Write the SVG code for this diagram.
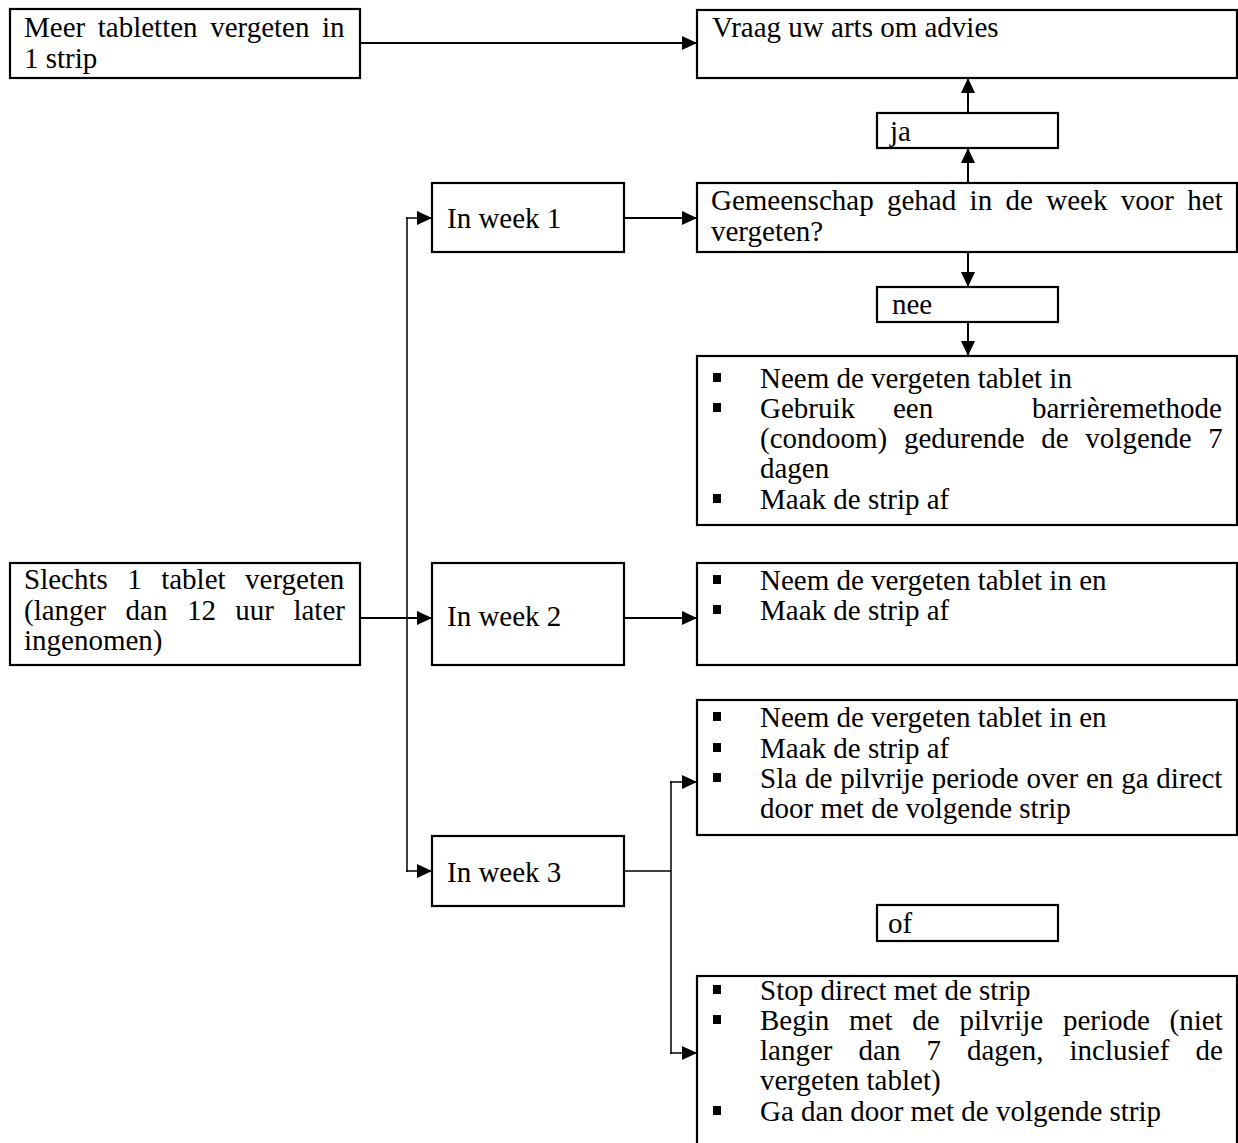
<svg xmlns="http://www.w3.org/2000/svg" width="1238" height="1143" viewBox="0 0 1238 1143">
<style>
.box{fill:#fff;stroke:#000;stroke-width:2.2}
.t{font-family:"Liberation Serif","Times New Roman",serif;font-size:29px;fill:#000}
.c{fill:none;stroke:#000;stroke-width:2}
.c2{fill:none;stroke:#000;stroke-width:1.5}
.b{fill:#000}
</style>
<defs>
<marker id="ah" markerUnits="userSpaceOnUse" markerWidth="15" markerHeight="14" refX="15" refY="7" orient="auto">
<path d="M0,0 L15,7 L0,14 z" fill="#000"/>
</marker>
</defs>
<rect width="1238" height="1143" fill="#fff"/>

<g id="connectors">
<line class="c" x1="360" y1="43" x2="697" y2="43" marker-end="url(#ah)"/>
<line class="c" x1="968" y1="183" x2="968" y2="148" marker-end="url(#ah)"/>
<line class="c" x1="968" y1="113" x2="968" y2="78" marker-end="url(#ah)"/>
<line class="c" x1="968" y1="252" x2="968" y2="287" marker-end="url(#ah)"/>
<line class="c" x1="968" y1="322" x2="968" y2="356" marker-end="url(#ah)"/>
<line class="c" x1="624" y1="218" x2="697" y2="218" marker-end="url(#ah)"/>
<line class="c" x1="360" y1="618" x2="432" y2="618" marker-end="url(#ah)"/>
<line class="c" x1="624" y1="618" x2="697" y2="618" marker-end="url(#ah)"/>
<line class="c2" x1="407" y1="217" x2="407" y2="872"/>
<line class="c2" x1="406" y1="218" x2="432" y2="218" marker-end="url(#ah)"/>
<line class="c2" x1="406" y1="871" x2="432" y2="871" marker-end="url(#ah)"/>
<line class="c2" x1="624" y1="871" x2="671" y2="871"/>
<line class="c2" x1="671" y1="781" x2="671" y2="1054"/>
<line class="c2" x1="670" y1="782" x2="697" y2="782" marker-end="url(#ah)"/>
<line class="c2" x1="670" y1="1053" x2="697" y2="1053" marker-end="url(#ah)"/>
</g>

<g id="n-meer">
<rect class="box" x="10" y="9" width="350" height="69"/>
<text class="t" x="24" y="37" word-spacing="5.3">Meer tabletten vergeten in</text>
<text class="t" x="24" y="68">1 strip</text>
</g>

<g id="n-vraag">
<rect class="box" x="697" y="10" width="540" height="68"/>
<text class="t" x="712" y="37">Vraag uw arts om advies</text>
</g>

<g id="n-ja">
<rect class="box" x="877" y="113" width="181" height="35"/>
<text class="t" x="890" y="141">ja</text>
</g>

<g id="n-gemeenschap">
<rect class="box" x="697" y="183" width="540" height="69"/>
<text class="t" x="711" y="210" word-spacing="6.1">Gemeenschap gehad in de week voor het</text>
<text class="t" x="711" y="241">vergeten?</text>
</g>

<g id="n-week1">
<rect class="box" x="432" y="183" width="192" height="69"/>
<text class="t" x="447" y="228">In week 1</text>
</g>

<g id="n-nee">
<rect class="box" x="877" y="287" width="181" height="35"/>
<text class="t" x="892" y="314">nee</text>
</g>

<g id="n-advies-week1">
<rect class="box" x="697" y="356" width="540" height="169"/>
<rect class="b" x="713" y="373" width="8" height="9"/>
<text class="t" x="760" y="388">Neem de vergeten tablet in</text>
<rect class="b" x="713" y="403" width="8" height="9"/>
<text class="t" x="760" y="418">Gebruik</text>
<text class="t" x="893" y="418">een</text>
<text class="t" x="1222" y="418" text-anchor="end">barrièremethode</text>
<text class="t" x="760" y="448" word-spacing="9.4">(condoom) gedurende de volgende 7</text>
<text class="t" x="760" y="478">dagen</text>
<rect class="b" x="713" y="494" width="8" height="9"/>
<text class="t" x="760" y="509">Maak de strip af</text>
</g>

<g id="n-slechts">
<rect class="box" x="10" y="563" width="350" height="102"/>
<text class="t" x="24" y="589" word-spacing="12.2">Slechts 1 tablet vergeten</text>
<text class="t" x="24" y="620" word-spacing="12.2">(langer dan 12 uur later</text>
<text class="t" x="24" y="650">ingenomen)</text>
</g>

<g id="n-week2">
<rect class="box" x="432" y="563" width="192" height="102"/>
<text class="t" x="447" y="626">In week 2</text>
</g>

<g id="n-advies-week2">
<rect class="box" x="697" y="563" width="540" height="102"/>
<rect class="b" x="713" y="575" width="8" height="9"/>
<text class="t" x="760" y="590">Neem de vergeten tablet in en</text>
<rect class="b" x="713" y="605" width="8" height="9"/>
<text class="t" x="760" y="620">Maak de strip af</text>
</g>

<g id="n-advies-week3a">
<rect class="box" x="697" y="700" width="540" height="135"/>
<rect class="b" x="713" y="712" width="8" height="9"/>
<text class="t" x="760" y="727">Neem de vergeten tablet in en</text>
<rect class="b" x="713" y="743" width="8" height="9"/>
<text class="t" x="760" y="758">Maak de strip af</text>
<rect class="b" x="713" y="773" width="8" height="9"/>
<text class="t" x="760" y="788" word-spacing="0.6">Sla de pilvrije periode over en ga direct</text>
<text class="t" x="760" y="818">door met de volgende strip</text>
</g>

<g id="n-week3">
<rect class="box" x="432" y="836" width="192" height="70"/>
<text class="t" x="447" y="882">In week 3</text>
</g>

<g id="n-of">
<rect class="box" x="877" y="905" width="181" height="36"/>
<text class="t" x="888" y="933">of</text>
</g>

<g id="n-advies-week3b">
<rect class="box" x="697" y="976" width="540" height="190"/>
<rect class="b" x="713" y="985" width="8" height="9"/>
<text class="t" x="760" y="1000">Stop direct met de strip</text>
<rect class="b" x="713" y="1015" width="8" height="9"/>
<text class="t" x="760" y="1030" word-spacing="12.5">Begin met de pilvrije periode (niet</text>
<text class="t" x="760" y="1060" word-spacing="18.8">langer dan 7 dagen, inclusief de</text>
<text class="t" x="760" y="1090">vergeten tablet)</text>
<rect class="b" x="713" y="1106" width="8" height="9"/>
<text class="t" x="760" y="1121">Ga dan door met de volgende strip</text>
</g>
</svg>
